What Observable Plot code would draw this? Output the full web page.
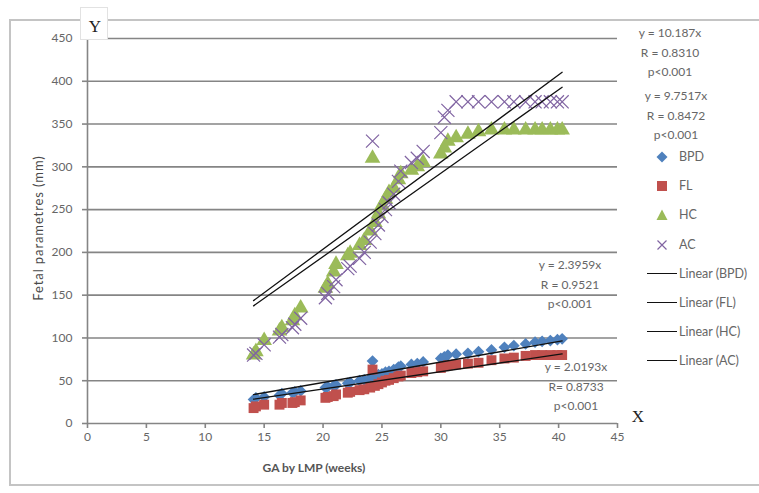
<!DOCTYPE html>
<html><head><meta charset="utf-8">
<script src="https://cdn.jsdelivr.net/npm/d3@7"></script>
<script src="https://cdn.jsdelivr.net/npm/@observablehq/plot@0.6"></script>
<style>
body{margin:0;background:#fff;font-family:Lato,"Open Sans",sans-serif;}
#wrap{position:relative;width:759px;height:493px;overflow:hidden;background:#fff;}
#wrap svg{position:absolute;left:0;top:0;}
.frame{position:absolute;left:9px;top:19px;width:770px;height:467px;border:2px solid #c4c4c4;box-sizing:border-box;}
.t{position:absolute;color:#666;font-size:12px;white-space:nowrap;transform:translate(-50%,-50%);line-height:1;}
.ax{position:absolute;font-family:"Liberation Serif","DejaVu Serif",serif;font-size:17px;color:#222;transform:translate(-50%,-50%);line-height:1;}
.ybox{position:absolute;left:80px;top:7px;width:28px;height:33px;background:#fff;border:1px solid #e2e2e2;box-sizing:border-box;}
.title{position:absolute;color:#555;font-size:12px;font-weight:bold;white-space:nowrap;transform:translate(-50%,-50%);line-height:1;}
.leg{position:absolute;color:#666;font-size:12.5px;white-space:nowrap;line-height:1;}
</style></head>
<body><div id="wrap"><div class="frame"></div></div>
<script>
// ---- data ----
const weeks = [14.1,14.3,15.0,16.3,16.5,17.4,17.6,18.1,20.2,20.4,20.9,21.1,22.1,22.3,23.1,23.5,24.0,24.2,24.4,24.7,25.0,25.3,25.6,26.0,26.4,26.6,27.5,28.0,28.5,30.0,30.3,30.6,31.3,32.3,33.2,34.3,35.4,36.2,37.2,38.0,38.6,39.3,39.9,40.3];
const bpd = [28,30,31,33,35,36,37,38,42,43,44,45,47,48,50,51,53,73,55,57,58,60,61,63,66,67,69,70,72,76,78,80,81,82,84,86,89,91,93,95,96,97,98,99];
const fl  = [18,20,22,22,24,24,25,27,30,31,32,34,36,37,39,40,42,63,44,46,48,50,51,53,55,56,59,60,61,65,67,68,69,70,71,74,76,77,79,80,80,80,80,80];
const hc  = [80,84,97,108,112,120,126,135,158,163,177,186,196,199,208,214,225,310,235,245,255,262,270,275,285,292,296,300,305,315,322,330,334,338,341,343,343,343,343,343,343,343,343,343];
const ac  = [80,82,92,101,104,112,116,123,147,152,160,168,181,184,193,200,212,330,222,232,242,250,258,268,283,295,305,310,318,340,358,366,376,376,376,376,376,376,376,376,376,376,376,376];
const seriesNames = ["BPD","FL","HC","AC"];
const seriesColors = ["#4F81BD","#C0504D","#9BBB59","#8064A2"];
const slopes = {BPD:2.3959, FL:2.0193, HC:9.7517, AC:10.187};
const rValues = {BPD:"R = 0.9521", FL:"R= 0.8733", HC:"R = 0.8472", AC:"R = 0.8310"};
const eqLabels = {BPD:"y = 2.3959x", FL:"y = 2.0193x", HC:"y = 9.7517x", AC:"y = 10.187x"};
const pLabel = "p<0.001";
const xTicks = [0,5,10,15,20,25,30,35,40,45];
const yTicks = [0,50,100,150,200,250,300,350,400,450];
const xTitle = "GA by LMP (weeks)";
const yTitle = "Fetal parametres (mm)";

const rows = (vals) => weeks.map((w,i)=>({w, v:vals[i]}));
const xmin = d3.min(weeks), xmax = d3.max(weeks);
const trend = (k) => [xmin, xmax].map(x=>({x, y:k*x}));
const grid = "#858585";

const chart = Plot.plot({
  width:759, height:493, marginLeft:87, marginRight:142, marginTop:38, marginBottom:70,
  style:{fontFamily:"Lato, 'Open Sans', sans-serif", fontSize:"12px", color:"#666", background:"transparent"},
  x:{domain:[0,45], label:null},
  y:{domain:[0,450], label:null},
  marks:[
    Plot.gridY(yTicks,{stroke:grid, strokeOpacity:1, strokeWidth:1.6}),
    Plot.axisY(yTicks,{tickSize:5, tickPadding:10, stroke:grid, strokeWidth:1.6, label:null}),
    Plot.axisX(xTicks,{tickSize:5, tickPadding:4, stroke:grid, strokeWidth:1.6, label:null}),
    Plot.ruleX([0],{stroke:grid, strokeWidth:1.6}),
    Plot.dot(rows(bpd),{x:"w", y:"v", symbol:"diamond2", fill:seriesColors[0], r:5.3, strokeWidth:0}),
    Plot.dot(rows(fl),{x:"w", y:"v", symbol:"square", fill:seriesColors[1], r:5.6, strokeWidth:0}),
    Plot.dot(rows(hc),{x:"w", y:"v", symbol:"triangle", fill:seriesColors[2], r:5.8, strokeWidth:0}),
    Plot.dot(rows(ac),{x:"w", y:"v", symbol:"times", stroke:seriesColors[3], r:6, strokeWidth:1.2}),
    ...seriesNames.map(s=>Plot.line(trend(slopes[s]),{x:"x", y:"y", stroke:"#111", strokeWidth:1.3}))
  ]
});
const wrap = document.getElementById("wrap");
wrap.appendChild(chart);

function add(cls, text, x, y, extra){
  const d = document.createElement("div");
  d.className = cls; d.textContent = text;
  d.style.left = x+"px"; d.style.top = y+"px";
  if (extra) Object.assign(d.style, extra);
  wrap.appendChild(d); return d;
}
// Y box and axis letters
const yb = document.createElement("div"); yb.className="ybox"; wrap.appendChild(yb);
add("ax","Y",95,26);
add("ax","X",638,416);
// axis titles
add("title", xTitle, 314, 468);
add("title", yTitle, 38, 228, {transform:"translate(-50%,-50%) rotate(-90deg)", fontWeight:"normal", fontSize:"13px", letterSpacing:"0.9px", color:"#4a4a4a"});
// regression annotations
const ann = [
  ["AC",670,33],["HC",676,96],["BPD",570,265],["FL",576,367]
];
ann.forEach(([s,x,y])=>{
  add("t", eqLabels[s], x, y);
  add("t", rValues[s], x, y+20);
  add("t", pLabel, x, y+39);
});
// legend
const markerSvg = [
  c=>`<svg width="12" height="12"><path d="M6,0.5L11.5,6L6,11.5L0.5,6Z" fill="${c}"/></svg>`,
  c=>`<svg width="12" height="12"><rect x="1" y="1" width="10" height="10" fill="${c}"/></svg>`,
  c=>`<svg width="12" height="12"><path d="M6,0.5L11.5,11L0.5,11Z" fill="${c}"/></svg>`,
  c=>`<svg width="12" height="12"><path d="M1.5,1.5L10.5,10.5M10.5,1.5L1.5,10.5" stroke="${c}" stroke-width="1.2"/></svg>`
];
const legY = [157,186,215,245];
seriesNames.forEach((s,i)=>{
  const m = document.createElement("div");
  m.style.cssText = `position:absolute;left:${656}px;top:${legY[i]-6}px;width:12px;height:12px;`;
  m.innerHTML = markerSvg[i](seriesColors[i]);
  wrap.appendChild(m);
  add("leg", s, 679, legY[i]-6);
});
const linY = [274,303,332,361];
seriesNames.forEach((s,i)=>{
  const l = document.createElement("div");
  l.style.cssText = `position:absolute;left:647px;top:${linY[i]-1}px;width:30px;height:0;border-top:1.6px solid #111;`;
  wrap.appendChild(l);
  add("leg", `Linear (${s})`, 679, linY[i]-6);
});
</script></body></html>
